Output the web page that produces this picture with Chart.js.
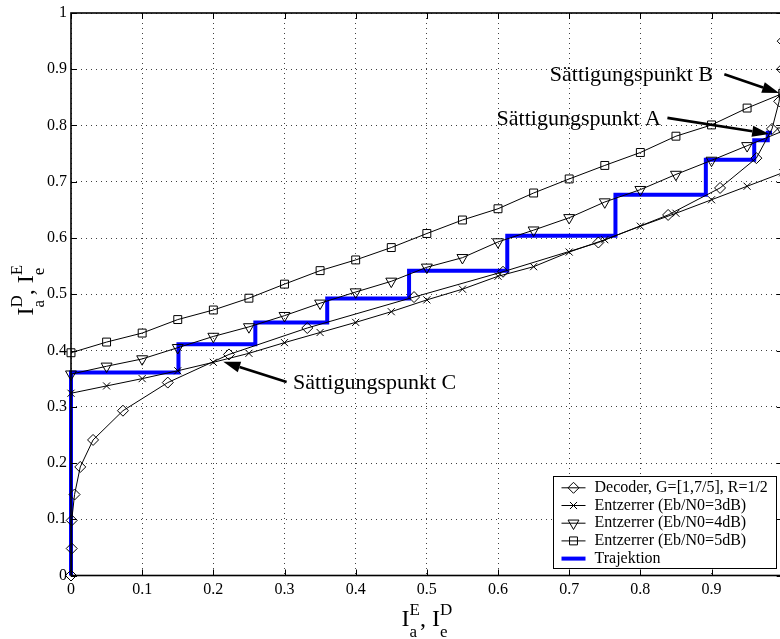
<!DOCTYPE html>
<html>
<head>
<meta charset="utf-8">
<script src="https://cdn.jsdelivr.net/npm/chart.js@4.4.0/dist/chart.umd.min.js"></script>
<style>
  html, body { margin: 0; padding: 0; background: #fff; overflow: hidden; }
  #wrap { width: 780px; height: 639px; overflow: hidden; }
</style>
</head>
<body>
<div id="wrap"><canvas id="exitChart" width="790" height="639"></canvas></div>
<script>
// EXIT chart values

// equalizer curves: I_a^E on x, I_e^E on y
const eqX   = [0, 0.05, 0.1, 0.15, 0.2, 0.25, 0.3, 0.35, 0.4, 0.45, 0.5, 0.55, 0.6, 0.65, 0.7, 0.75, 0.8, 0.85, 0.9, 0.95, 1.0];
const eq3dB = [0.324, 0.337, 0.350, 0.364, 0.379, 0.395, 0.414, 0.432, 0.450, 0.469, 0.490, 0.509, 0.532, 0.549, 0.575, 0.597, 0.621, 0.644, 0.668, 0.692, 0.716];
const eq4dB = [0.358, 0.372, 0.385, 0.405, 0.425, 0.442, 0.462, 0.484, 0.504, 0.523, 0.548, 0.565, 0.593, 0.614, 0.636, 0.664, 0.686, 0.713, 0.738, 0.764, 0.790];
const eq5dB = [0.396, 0.415, 0.431, 0.455, 0.472, 0.493, 0.518, 0.542, 0.561, 0.583, 0.608, 0.632, 0.652, 0.680, 0.705, 0.729, 0.752, 0.781, 0.801, 0.831, 0.857];

// decoder curve (axes swapped): I_e^D on x, I_a^D on y
const decoderX = [0, 0.001, 0.001, 0.005, 0.013, 0.031, 0.073, 0.136, 0.222, 0.332, 0.482, 0.607, 0.741, 0.839, 0.912, 0.963, 0.985, 0.995, 0.999, 1.0];
const decoderY = [0, 0.048, 0.098, 0.144, 0.193, 0.241, 0.293, 0.343, 0.393, 0.440, 0.495, 0.540, 0.592, 0.641, 0.689, 0.742, 0.794, 0.843, 0.900, 0.950];

// decoding trajectory (staircase)
const trajX = [0, 0, 0.151, 0.151, 0.259, 0.259, 0.360, 0.360, 0.475, 0.475, 0.613, 0.613, 0.765, 0.765, 0.892, 0.892, 0.960, 0.960, 0.979, 0.979, 0.985];
const trajY = [0, 0.361, 0.361, 0.411, 0.411, 0.450, 0.450, 0.4925, 0.4925, 0.542, 0.542, 0.604, 0.604, 0.677, 0.677, 0.739, 0.739, 0.774, 0.774, 0.787, 0.787];

const xTickLabels = ['0', '0.1', '0.2', '0.3', '0.4', '0.5', '0.6', '0.7', '0.8', '0.9', '1'];
const yTickLabels = ['0', '0.1', '0.2', '0.3', '0.4', '0.5', '0.6', '0.7', '0.8', '0.9', '1'];

const seriesNames = [
  'Decoder, G=[1,7/5], R=1/2',
  'Entzerrer (Eb/N0=3dB)',
  'Entzerrer (Eb/N0=4dB)',
  'Entzerrer (Eb/N0=5dB)',
  'Trajektion'
];

const noteTexts = ['Sättigungspunkt B', 'Sättigungspunkt A', 'Sättigungspunkt C'];

// ---- layout / styling (not data) ----
const SERIF = '"Liberation Serif", "Times New Roman", serif';

const notes = [
  { text: noteTexts[0], at: [0.902, 0.889], align: 'right', from: [0.918, 0.891], to: [0.995, 0.858] },
  { text: noteTexts[1], at: [0.829, 0.8105], align: 'right', from: [0.838, 0.8135], to: [0.981, 0.785] },
  { text: noteTexts[2], at: [0.312, 0.341], align: 'left', from: [0.303, 0.344], to: [0.214, 0.380] }
];

function toPoints(xs, ys) {
  return xs.map((x, i) => ({ x: x, y: ys[i] }));
}

function blackSeries(label, points, style, radius, rotation, order) {
  return {
    label: label,
    data: points,
    showLine: true,
    borderColor: '#000',
    borderWidth: 1,
    pointStyle: style,
    pointRadius: radius,
    pointRotation: rotation,
    pointBorderColor: '#000',
    pointBackgroundColor: 'rgba(0,0,0,0)',
    pointBorderWidth: 1,
    pointHoverRadius: radius,
    clip: false,
    order: order
  };
}

// small marker drawer for the legend
function drawMarker(ctx, ds, x, y) {
  if (Chart.helpers && Chart.helpers.drawPoint) {
    Chart.helpers.drawPoint(ctx, {
      pointStyle: ds.pointStyle,
      radius: ds.pointRadius,
      rotation: ds.pointRotation || 0,
      borderWidth: 1
    }, x, y);
  }
}

function drawArrow(ctx, x1, y1, x2, y2) {
  const ang = Math.atan2(y2 - y1, x2 - x1);
  const headLen = 17, headW = 5.5;
  const bx = x2 - Math.cos(ang) * headLen;
  const by = y2 - Math.sin(ang) * headLen;
  ctx.beginPath();
  ctx.moveTo(x1, y1);
  ctx.lineTo(bx, by);
  ctx.lineWidth = 2.6;
  ctx.stroke();
  ctx.beginPath();
  ctx.moveTo(x2, y2);
  ctx.lineTo(bx - Math.sin(ang) * headW, by + Math.cos(ang) * headW);
  ctx.lineTo(bx + Math.sin(ang) * headW, by - Math.cos(ang) * headW);
  ctx.closePath();
  ctx.fill();
}

// "I_a^D, I_e^E" style label, centred on (0, 0) in the current transform
function drawIndexedTitle(ctx, parts) {
  const big = '24px ' + SERIF, small = '17px ' + SERIF;
  let total = 0;
  const widths = parts.map(p => {
    ctx.font = big;
    let w = ctx.measureText(p.t).width;
    if (p.sup || p.sub) {
      ctx.font = small;
      w += Math.max(ctx.measureText(p.sup || '').width, ctx.measureText(p.sub || '').width);
    }
    total += w;
    return w;
  });
  let cx = -total / 2;
  ctx.textBaseline = 'alphabetic';
  ctx.textAlign = 'left';
  parts.forEach((p, i) => {
    ctx.font = big;
    ctx.fillText(p.t, cx, 0);
    const sx = cx + ctx.measureText(p.t).width;
    ctx.font = small;
    if (p.sup) ctx.fillText(p.sup, sx, -11);
    if (p.sub) ctx.fillText(p.sub, sx, 11);
    cx += widths[i];
  });
}

const decorPlugin = {
  id: 'exitDecor',
  afterDatasetsDraw(chart) {
    const { ctx, chartArea: a, scales } = chart;
    ctx.save();
    ctx.strokeStyle = '#000';
    ctx.lineWidth = 1.6;
    ctx.strokeRect(a.left, a.top, a.right - a.left, a.bottom - a.top);
    ctx.lineWidth = 1;
    ctx.beginPath();
    scales.x.ticks.forEach(t => {
      const px = Math.round(scales.x.getPixelForValue(t.value)) + 0.5;
      ctx.moveTo(px, a.bottom); ctx.lineTo(px, a.bottom - 6);
      ctx.moveTo(px, a.top); ctx.lineTo(px, a.top + 6);
    });
    scales.y.ticks.forEach(t => {
      const py = Math.round(scales.y.getPixelForValue(t.value)) + 0.5;
      ctx.moveTo(a.left, py); ctx.lineTo(a.left + 6, py);
      ctx.moveTo(a.right, py); ctx.lineTo(a.right - 6, py);
    });
    ctx.stroke();
    ctx.restore();
  },
  afterDraw(chart) {
    const { ctx, chartArea: a, scales } = chart;
    const X = v => scales.x.getPixelForValue(v);
    const Y = v => scales.y.getPixelForValue(v);
    ctx.save();

    // annotations with arrows
    ctx.fillStyle = '#000';
    ctx.strokeStyle = '#000';
    ctx.font = '22px ' + SERIF;
    ctx.textBaseline = 'middle';
    notes.forEach(n => {
      ctx.textAlign = n.align;
      ctx.fillText(n.text, X(n.at[0]), Y(n.at[1]));
      drawArrow(ctx, X(n.from[0]), Y(n.from[1]), X(n.to[0]), Y(n.to[1]));
    });

    // legend box in the lower right corner of the plot
    const lw = 223, lh = 92;
    const lx = Math.round(a.right - 7 - lw) + 0.5;
    const ly = Math.round(a.bottom - 7.5 - lh) + 0.5;
    ctx.fillStyle = '#fff';
    ctx.fillRect(lx, ly, lw, lh);
    ctx.lineWidth = 1;
    ctx.strokeStyle = '#000';
    ctx.strokeRect(lx, ly, lw, lh);
    const order = [0, 1, 2, 3, 4];
    ctx.font = '16px ' + SERIF;
    ctx.textAlign = 'left';
    ctx.textBaseline = 'middle';
    order.forEach((di, row) => {
      const ds = chart.data.datasets[di];
      const ry = ly + 11.3 + row * 17.7;
      ctx.strokeStyle = ds.borderColor;
      ctx.lineWidth = ds.borderWidth;
      ctx.beginPath();
      ctx.moveTo(lx + 8, ry);
      ctx.lineTo(lx + 32, ry);
      ctx.stroke();
      if (ds.pointRadius > 0) {
        ctx.strokeStyle = '#000';
        ctx.fillStyle = 'rgba(0,0,0,0)';
        ctx.lineWidth = 1;
        drawMarker(ctx, ds, lx + 20, ry);
      }
      ctx.fillStyle = '#000';
      ctx.fillText(ds.label, lx + 41, ry);
    });

    // axis titles with sub/superscripts
    ctx.fillStyle = '#000';
    ctx.save();
    ctx.translate((a.left + a.right) / 2, 626);
    drawIndexedTitle(ctx, [{ t: 'I', sup: 'E', sub: 'a' }, { t: ', ' }, { t: 'I', sup: 'D', sub: 'e' }]);
    ctx.restore();
    ctx.save();
    ctx.translate(33, (a.top + a.bottom) / 2 - 4);
    ctx.rotate(-Math.PI / 2);
    drawIndexedTitle(ctx, [{ t: 'I', sup: 'D', sub: 'a' }, { t: ', ' }, { t: 'I', sup: 'E', sub: 'e' }]);
    ctx.restore();

    ctx.restore();
  }
};

const datasets = [
  blackSeries(seriesNames[0], toPoints(decoderX, decoderY), 'rectRot', 5.5, 0, 1),
  blackSeries(seriesNames[1], toPoints(eqX, eq3dB), 'crossRot', 5, 0, 2),
  blackSeries(seriesNames[2], toPoints(eqX, eq4dB), 'triangle', 6.3, 180, 3),
  blackSeries(seriesNames[3], toPoints(eqX, eq5dB), 'rect', 5.6, 0, 4),
  {
    label: seriesNames[4],
    data: toPoints(trajX, trajY),
    showLine: true,
    borderColor: '#0000ff',
    borderWidth: 4,
    borderJoinStyle: 'miter',
    pointRadius: 0,
    clip: false,
    order: 5
  }
];

const tickFont = { family: SERIF, size: 16 };

new Chart(document.getElementById('exitChart'), {
  type: 'scatter',
  data: { datasets: datasets },
  options: {
    responsive: false,
    devicePixelRatio: 1,
    animation: false,
    layout: { padding: { top: 13, right: 5, bottom: 0, left: 0 } },
    plugins: {
      legend: { display: false },
      tooltip: { enabled: false }
    },
    scales: {
      x: {
        type: 'linear',
        min: 0,
        max: 1,
        afterFit: s => { s.height = 63.5; s.paddingLeft = 0; s.paddingRight = 0; },
        ticks: {
          stepSize: 0.1,
          color: '#000',
          font: tickFont,
          padding: 5,
          maxRotation: 0,
          callback: (v, i) => xTickLabels[i]
        },
        grid: { color: 'rgba(0,0,0,0.75)', lineWidth: 1, drawTicks: false },
        border: { display: false, dash: [1, 4] }
      },
      y: {
        type: 'linear',
        min: 0,
        max: 1,
        afterFit: s => { s.width = 71; s.paddingTop = 0; s.paddingBottom = 0; },
        ticks: {
          stepSize: 0.1,
          color: '#000',
          font: tickFont,
          padding: 4,
          callback: (v, i) => yTickLabels[i]
        },
        grid: { color: 'rgba(0,0,0,0.75)', lineWidth: 1, drawTicks: false },
        border: { display: false, dash: [1, 4] }
      }
    }
  },
  plugins: [decorPlugin]
});
</script>
</body>
</html>
